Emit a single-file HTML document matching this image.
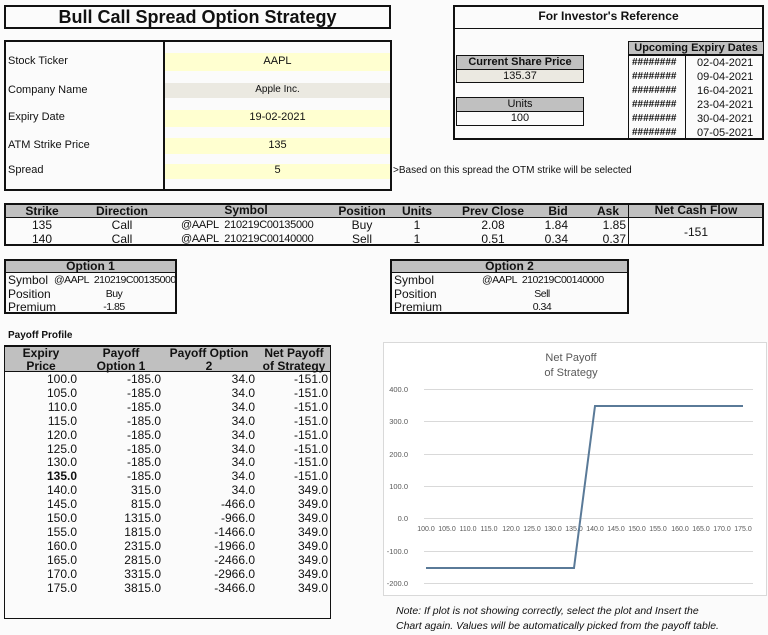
<!DOCTYPE html>
<html><head><meta charset="utf-8"><style>
*{margin:0;padding:0;box-sizing:border-box}
body{width:768px;height:635px;background:#fbfbfb;position:relative;overflow:hidden;font-family:"Liberation Sans Narrow","Liberation Sans",sans-serif;font-size:12px;color:#111}
.a{position:absolute;white-space:nowrap}
.box{position:absolute;border:2px solid #111}
.g{position:absolute;background:#c0c0c0}
.b{font-weight:bold}
.c{text-align:center}
.r{text-align:right}
.w{font-family:"Liberation Sans",sans-serif}
.n{font-size:11px;letter-spacing:-0.3px}
.m{font-size:10.5px;letter-spacing:-0.5px}
</style></head><body>
<!-- title -->
<div class="box" style="left:4px;top:5px;width:387px;height:24px"></div>
<div class="a b w c" style="left:4px;top:6px;width:387px;font-size:18px;line-height:22px">Bull Call Spread Option Strategy</div>
<!-- inputs -->
<div class="box" style="left:4px;top:40px;width:388px;height:151px"></div>
<div class="a" style="left:163px;top:41px;width:2px;height:149px;background:#111"></div>
<div class="a" style="left:165px;top:53px;width:225px;height:18px;background:#ffffd0"></div>
<div class="a" style="left:165px;top:83px;width:225px;height:15px;background:#ebe9e1"></div>
<div class="a" style="left:165px;top:110px;width:225px;height:17px;background:#ffffd0"></div>
<div class="a" style="left:165px;top:138px;width:225px;height:16px;background:#ffffd0"></div>
<div class="a" style="left:165px;top:164px;width:225px;height:15px;background:#ffffd0"></div>
<div class="a w" style="left:8px;top:55px;font-size:11px">Stock Ticker</div>
<div class="a w" style="left:8px;top:84px;font-size:11px">Company Name</div>
<div class="a w" style="left:8px;top:111px;font-size:11px">Expiry Date</div>
<div class="a w" style="left:8px;top:139px;font-size:11px">ATM Strike Price</div>
<div class="a w" style="left:8px;top:164px;font-size:11px">Spread</div>
<div class="a w c" style="left:165px;top:55px;width:225px;font-size:11px">AAPL</div>
<div class="a w c" style="left:165px;top:84px;width:225px;font-size:10px">Apple Inc.</div>
<div class="a w c" style="left:165px;top:111px;width:225px;font-size:11px">19-02-2021</div>
<div class="a w c" style="left:165px;top:139px;width:225px;font-size:11px">135</div>
<div class="a w c" style="left:165px;top:164px;width:225px;font-size:11px">5</div>
<div class="a w" style="left:393px;top:165px;font-size:10px">&gt;Based on this spread the OTM strike will be selected</div>
<!-- investor ref -->
<div class="box" style="left:453px;top:5px;width:311px;height:135px"></div>
<div class="a" style="left:454px;top:28px;width:309px;height:1px;background:#111"></div>
<div class="a b w c" style="left:453px;top:9px;width:311px;font-size:12px">For Investor's Reference</div>
<div class="g" style="left:456px;top:55px;width:128px;height:15px;border:1px solid #111"></div>
<div class="a b w c" style="left:456px;top:56px;width:128px;font-size:11px">Current Share Price</div>
<div class="a" style="left:456px;top:69px;width:128px;height:14px;background:#ebe9e1;border:1px solid #111"></div>
<div class="a w c" style="left:456px;top:70px;width:128px;font-size:11px">135.37</div>
<div class="g" style="left:456px;top:97px;width:128px;height:15px;border:1px solid #111"></div>
<div class="a w c" style="left:456px;top:98px;width:128px;font-size:11px">Units</div>
<div class="a" style="left:456px;top:111px;width:128px;height:15px;border:1px solid #111"></div>
<div class="a w c" style="left:456px;top:112px;width:128px;font-size:11px">100</div>
<div class="g" style="left:628px;top:41px;width:136px;height:15px;border:1px solid #111;border-bottom:2px solid #111"></div>
<div class="a b w c" style="left:628px;top:42px;width:136px;font-size:11px">Upcoming Expiry Dates</div>
<div class="a" style="left:628px;top:55px;width:1px;height:84px;background:#111"></div>
<div class="a" style="left:685px;top:55px;width:1px;height:84px;background:#111"></div>
<div class="a w b" style="left:632px;top:56px;font-size:10px;line-height:14px">########<br>########<br>########<br>########<br>########<br>########</div>
<div class="a w" style="left:697px;top:56px;font-size:11px;line-height:14px">02-04-2021<br>09-04-2021<br>16-04-2021<br>23-04-2021<br>30-04-2021<br>07-05-2021</div>
<!-- main table -->
<div class="box" style="left:4px;top:203px;width:760px;height:43px"></div>
<div class="g" style="left:6px;top:205px;width:756px;height:13px;border-bottom:1px solid #111"></div>
<div class="a" style="left:628px;top:205px;width:1px;height:39px;background:#111"></div>
<div class="a b c" style="left:0;top:204px;width:84px">Strike</div>
<div class="a b c" style="left:82px;top:204px;width:80px">Direction</div>
<div class="a b c" style="left:186px;top:203px;width:120px">Symbol</div>
<div class="a b c" style="left:332px;top:204px;width:60px">Position</div>
<div class="a b c" style="left:397px;top:204px;width:40px">Units</div>
<div class="a b c" style="left:453px;top:204px;width:80px">Prev Close</div>
<div class="a b c" style="left:538px;top:204px;width:40px">Bid</div>
<div class="a b c" style="left:588px;top:204px;width:40px">Ask</div>
<div class="a b c" style="left:628px;top:203px;width:136px">Net Cash Flow</div>
<div class="a c" style="left:0;top:218px;width:84px;line-height:14px">135<br>140</div>
<div class="a c" style="left:82px;top:218px;width:80px;line-height:14px">Call<br>Call</div>
<div class="a n" style="left:181px;top:218px;line-height:14px">@AAPL&nbsp; 210219C00135000<br>@AAPL&nbsp; 210219C00140000</div>
<div class="a c" style="left:332px;top:218px;width:60px;line-height:14px">Buy<br>Sell</div>
<div class="a c" style="left:397px;top:218px;width:40px;line-height:14px">1<br>1</div>
<div class="a c" style="left:453px;top:218px;width:80px;line-height:14px">2.08<br>0.51</div>
<div class="a r" style="left:530px;top:218px;width:38px;line-height:14px">1.84<br>0.34</div>
<div class="a r" style="left:580px;top:218px;width:46px;line-height:14px">1.85<br>0.37</div>
<div class="a c" style="left:628px;top:225px;width:136px">-151</div>
<!-- option boxes -->
<div class="box" style="left:4px;top:259px;width:173px;height:55px"></div>
<div class="g" style="left:6px;top:261px;width:169px;height:12px;border-bottom:1px solid #111"></div>
<div class="a b c" style="left:4px;top:259px;width:173px">Option 1</div>
<div class="a" style="left:8px;top:274px;line-height:13.5px">Symbol<br>Position<br>Premium</div>
<div class="a c m" style="left:54px;top:274px;width:120px;line-height:13.5px">@AAPL&nbsp; 210219C00135000<br>Buy<br>-1.85</div>
<div class="box" style="left:390px;top:259px;width:239px;height:55px"></div>
<div class="g" style="left:392px;top:261px;width:235px;height:12px;border-bottom:1px solid #111"></div>
<div class="a b c" style="left:390px;top:259px;width:239px">Option 2</div>
<div class="a" style="left:394px;top:274px;line-height:13.5px">Symbol<br>Position<br>Premium</div>
<div class="a c m" style="left:482px;top:274px;width:120px;line-height:13.5px">@AAPL&nbsp; 210219C00140000<br>Sell<br>0.34</div>
<!-- payoff table -->
<div class="a b w" style="left:8px;top:330px;font-size:10px">Payoff Profile</div>
<div class="a" style="left:4px;top:345px;width:327px;height:274px;border:1px solid #111;border-top:2px solid #111"></div>
<div class="g" style="left:5px;top:347px;width:325px;height:25px;border-bottom:1px solid #111"></div>
<div class="a b w c" style="left:5px;top:347px;width:72px;font-size:12px;line-height:13px">Expiry<br>Price</div>
<div class="a b w c" style="left:85px;top:347px;width:72px;font-size:12px;line-height:13px">Payoff<br>Option 1</div>
<div class="a b w c" style="left:163px;top:347px;width:92px;font-size:12px;line-height:13px">Payoff Option<br>2</div>
<div class="a b w c" style="left:258px;top:347px;width:72px;font-size:12px;line-height:13px">Net Payoff<br>of Strategy</div>
<div class="a r" style="left:0;top:373px;width:77px;line-height:13.9px">100.0<br>105.0<br>110.0<br>115.0<br>120.0<br>125.0<br>130.0<br><b class="w">135.0</b><br>140.0<br>145.0<br>150.0<br>155.0<br>160.0<br>165.0<br>170.0<br>175.0</div>
<div class="a r" style="left:80px;top:373px;width:81px;line-height:13.9px">-185.0<br>-185.0<br>-185.0<br>-185.0<br>-185.0<br>-185.0<br>-185.0<br>-185.0<br>315.0<br>815.0<br>1315.0<br>1815.0<br>2315.0<br>2815.0<br>3315.0<br>3815.0</div>
<div class="a r" style="left:170px;top:373px;width:85px;line-height:13.9px">34.0<br>34.0<br>34.0<br>34.0<br>34.0<br>34.0<br>34.0<br>34.0<br>34.0<br>-466.0<br>-966.0<br>-1466.0<br>-1966.0<br>-2466.0<br>-2966.0<br>-3466.0</div>
<div class="a r" style="left:260px;top:373px;width:68px;line-height:13.9px">-151.0<br>-151.0<br>-151.0<br>-151.0<br>-151.0<br>-151.0<br>-151.0<br>-151.0<br>349.0<br>349.0<br>349.0<br>349.0<br>349.0<br>349.0<br>349.0<br>349.0</div>
<!-- chart -->
<svg class="a" style="left:0;top:0" width="768" height="635">
<rect x="383.5" y="342.5" width="383" height="253" fill="#fff" stroke="#d9d9d9"/>
<text x="571" y="361" font-family="Liberation Sans" font-size="11" fill="#595959" text-anchor="middle">Net Payoff</text>
<text x="571" y="376" font-family="Liberation Sans" font-size="11" fill="#595959" text-anchor="middle">of Strategy</text>
<g stroke="#d9d9d9" stroke-width="1">
<line x1="424" x2="753" y1="389.5" y2="389.5"/><line x1="424" x2="753" y1="421.5" y2="421.5"/>
<line x1="424" x2="753" y1="454.5" y2="454.5"/><line x1="424" x2="753" y1="486.5" y2="486.5"/>
<line x1="424" x2="753" y1="518.5" y2="518.5"/><line x1="424" x2="753" y1="551.5" y2="551.5"/>
<line x1="424" x2="753" y1="583.5" y2="583.5"/></g>
<g font-family="Liberation Sans" font-size="7.5" fill="#595959" text-anchor="end">
<text x="408" y="392">400.0</text><text x="408" y="424">300.0</text><text x="408" y="457">200.0</text>
<text x="408" y="489">100.0</text><text x="408" y="521">0.0</text><text x="408" y="554">-100.0</text><text x="408" y="586">-200.0</text></g>
<g font-family="Liberation Sans" font-size="7" fill="#595959" text-anchor="middle">
<text x="426" y="531">100.0</text><text x="447" y="531">105.0</text><text x="468" y="531">110.0</text><text x="489" y="531">115.0</text><text x="511" y="531">120.0</text><text x="532" y="531">125.0</text><text x="553" y="531">130.0</text><text x="574" y="531">135.0</text><text x="595" y="531">140.0</text><text x="616" y="531">145.0</text><text x="637" y="531">150.0</text><text x="658" y="531">155.0</text><text x="680" y="531">160.0</text><text x="701" y="531">165.0</text><text x="722" y="531">170.0</text><text x="743" y="531">175.0</text></g>
<polyline points="426,568 574,568 595,406 743,406" fill="none" stroke="#5a7a98" stroke-width="2"/>
</svg>
<div class="a w" style="left:396px;top:604px;font-size:10.5px;font-style:italic;line-height:15px">Note: If plot is not showing correctly, select the plot and Insert the<br>Chart again. Values will be automatically picked from the payoff table.</div>
</body></html>
